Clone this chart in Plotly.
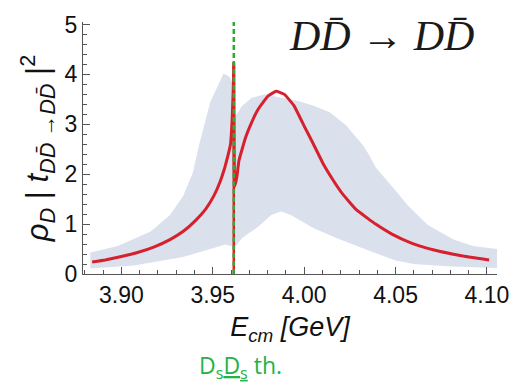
import plotly.graph_objects as go

# ---------------- data ----------------
E_threshold = 3.9615          # Ds Ds threshold position
threshold_top = 5.05          # green dashed line top
red_spike_top = 4.24

red_E = [3.884, 3.8911, 3.900, 3.9088, 3.9177, 3.9266, 3.9337, 3.9408, 3.9461, 3.9505, 3.954,
         3.9567, 3.9585, 3.9597, 3.9606, 3.9612, 3.9615,
         3.9620, 3.9632, 3.9643, 3.9679, 3.9714, 3.975, 3.9803, 3.9847, 3.9892, 3.9945, 3.9998,
         4.0051, 4.0104, 4.0157, 4.0211, 4.0282, 4.0353, 4.0391, 4.048, 4.0587, 4.0711, 4.0853, 4.1012]
red_val = [0.24, 0.28, 0.35, 0.43, 0.54, 0.69, 0.85, 1.08, 1.30, 1.56, 1.85,
           2.15, 2.40, 2.60, 3.10, 3.70, 4.24,
           1.76, 1.95, 2.27, 2.73, 3.05, 3.31, 3.57, 3.66, 3.60, 3.37, 2.98,
           2.60, 2.21, 1.89, 1.60, 1.30, 1.10, 1.00, 0.80, 0.62, 0.48, 0.37, 0.28]

band_upper_E = [3.883, 3.898, 3.916, 3.9266, 3.9337, 3.939, 3.9426, 3.9487, 3.9559, 3.9594, 3.9612,
                3.9618, 3.9638, 3.9661, 3.9714, 3.9785, 3.9874, 3.9963, 4.0051, 4.014, 4.0229,
                4.0317, 4.0353, 4.0391, 4.048, 4.0569, 4.0676, 4.0817, 4.0923, 4.1055]
band_upper = [0.43, 0.56, 0.85, 1.18, 1.56, 2.02, 2.60, 3.45, 4.02, 3.95, 3.76,
              3.15, 3.24, 3.37, 3.53, 3.60, 3.53, 3.47, 3.37, 3.24, 2.98,
              2.60, 2.40, 2.14, 1.76, 1.37, 0.98, 0.69, 0.56, 0.50]

band_lower_E = [3.883, 3.907, 3.9337, 3.9514, 3.9567, 3.9612, 3.9618, 3.964, 3.966, 3.975, 3.982,
                3.9874, 3.9927, 4.005, 4.0176, 4.0353, 4.050, 4.060, 4.080, 4.1055]
band_lower = [0.11, 0.17, 0.34, 0.53, 0.59, 0.55, 0.52, 0.62, 0.72, 0.95, 1.18,
              1.25, 1.18, 0.92, 0.72, 0.47, 0.27, 0.20, 0.15, 0.12]

x_tick_vals = [3.90, 3.95, 4.00, 4.05, 4.10]
x_tick_text = ["3.90", "3.95", "4.00", "4.05", "4.10"]
y_tick_vals = [0, 1, 2, 3, 4, 5]

# ---------------- figure ----------------
fig = go.Figure()

fig.add_trace(go.Scatter(
    x=band_upper_E + band_lower_E[::-1],
    y=band_upper + band_lower[::-1],
    fill="toself", fillcolor="#dae1ec", line=dict(width=0),
    mode="lines", hoverinfo="skip", showlegend=False))

fig.add_trace(go.Scatter(
    x=[E_threshold, E_threshold], y=[0, red_spike_top],
    mode="lines", line=dict(color="#d7202e", width=2.5), showlegend=False))

fig.add_trace(go.Scatter(
    x=red_E, y=red_val, mode="lines",
    line=dict(color="#d7202e", width=3, shape="spline", smoothing=0.3),
    showlegend=False))

fig.add_trace(go.Scatter(
    x=[E_threshold, E_threshold], y=[0, threshold_top],
    mode="lines", line=dict(color="#2eaa2e", width=2.5, dash="5px,3px"),
    showlegend=False))

axis_col = "#555555"
fig.update_layout(
    width=521, height=384,
    margin=dict(l=83, r=13, t=13, b=110),
    paper_bgcolor="white", plot_bgcolor="white",
    font=dict(family="Liberation Sans, Arial, sans-serif", color="#111111"),
    xaxis=dict(
        range=[3.879, 4.1055], showgrid=False, zeroline=False,
        showline=True, linecolor=axis_col, linewidth=1.2,
        ticks="inside", ticklen=7, tickcolor=axis_col, tickwidth=1,
        tickvals=x_tick_vals, ticktext=x_tick_text,
        tickfont=dict(size=23, color="#111111"),
        minor=dict(dtick=0.01, ticks="inside", ticklen=4, tickcolor=axis_col, showgrid=False),
        title=dict(text="<i>E<sub>cm</sub> [GeV]</i>", font=dict(size=27, color="#111111"), standoff=10),
    ),
    yaxis=dict(
        range=[0, 5.05], showgrid=False, zeroline=False,
        showline=True, linecolor=axis_col, linewidth=1.2,
        ticks="inside", ticklen=7, tickcolor=axis_col, tickwidth=1,
        tickvals=y_tick_vals, tickfont=dict(size=23, color="#111111"),
        minor=dict(dtick=0.2, ticks="inside", ticklen=4, tickcolor=axis_col, showgrid=False),
        title=dict(text="<i>ρ</i><sub><i>D</i></sub> | <i>t</i><sub><i>D</i><i>D̄</i> →<i>D</i><i>D̄</i></sub> |<sup>2</sup>",
                   font=dict(size=31, color="#111111"), standoff=6),
    ),
)

fig.add_annotation(
    x=(389 - 83) / (521 - 83 - 13), y=1 - (27 - 13) / (384 - 13 - 110),
    xref="paper", yref="paper", showarrow=False, xanchor="center", yanchor="middle",
    text="<i>D</i><i>D̄</i> → <i>D</i><i>D̄</i>",
    font=dict(family="Liberation Serif, Times New Roman, serif", size=42, color="#1a1a1a"))

fig.add_annotation(
    x=(245 - 83) / (521 - 83 - 13), y=-(370 - 274) / (384 - 13 - 110),
    xref="paper", yref="paper", showarrow=False, xanchor="center", yanchor="middle",
    text='D<sub>s</sub><span style="text-decoration:underline">D<sub>s</sub></span> th.',
    font=dict(family="Open Sans, Liberation Sans, sans-serif", size=23, color="#22b34a"))

fig.write_html("out.html")
